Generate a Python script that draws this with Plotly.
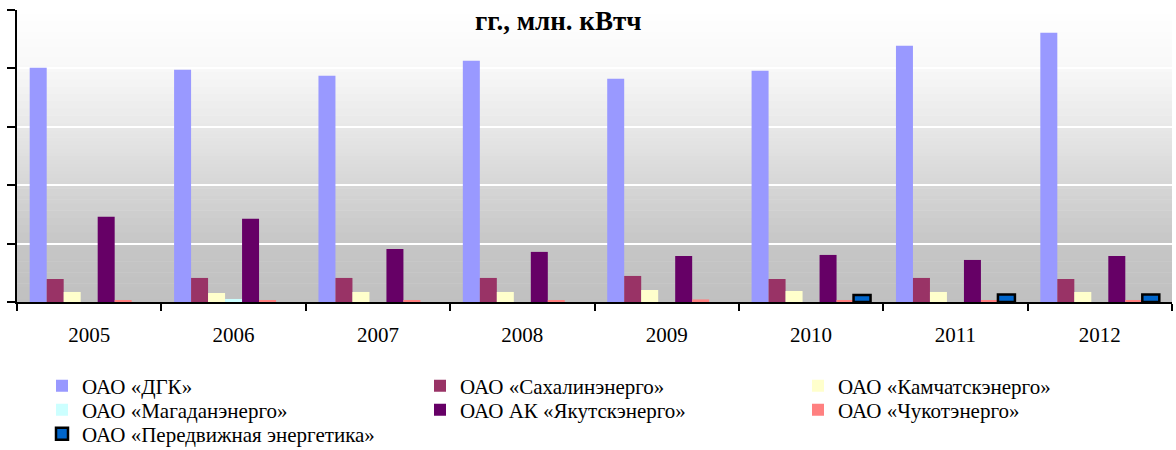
import plotly.graph_objects as go

years = ["2005", "2006", "2007", "2008", "2009", "2010", "2011", "2012"]

dgk = [20060, 19890, 19370, 20660, 19110, 19800, 21940, 23060]
sakhalin = [1970, 2060, 2060, 2060, 2230, 1970, 2060, 1970]
kamchatka = [860, 770, 860, 860, 1030, 940, 860, 860]
magadan = [None, 260, None, None, None, None, None, None]
yakutsk = [7290, 7120, 4540, 4290, 3940, 4030, 3600, 3940]
chukotka = [90, 90, 90, 90, 220, 90, 90, 90]
peredv = [None, None, None, None, None, 600, 650, 650]

series = [
    ("ОАО «ДГК»", dgk, "#9999ff", "legend"),
    ("ОАО «Сахалинэнерго»", sakhalin, "#993366", "legend"),
    ("ОАО «Камчатскэнерго»", kamchatka, "#ffffcc", "legend"),
    ("ОАО «Магаданэнерго»", magadan, "#ccffff", "legend2"),
    ("ОАО АК «Якутскэнерго»", yakutsk, "#660066", "legend2"),
    ("ОАО «Чукотэнерго»", chukotka, "#ff8080", "legend2"),
    ("ОАО «Передвижная энергетика»", peredv, "#0066cc", "legend3"),
]

FONT = "Liberation Serif, Times New Roman, serif"

fig = go.Figure()
for name, vals, col, leg in series:
    line = dict(width=0)
    if name == "ОАО «Передвижная энергетика»":
        line = dict(width=2.5, color="black")
    fig.add_trace(go.Bar(x=years, y=vals, name=name, legend=leg,
                         marker=dict(color=col, line=line)))

# gradient background bands (top white -> bottom gray)
stops = [(1.0, 255), (0.8, 248), (0.6, 232), (0.4, 214), (0.2, 198), (0.0, 192)]
def shade(f):
    for (f1, c1), (f0, c0) in zip(stops[:-1], stops[1:]):
        if f0 <= f <= f1:
            t = (f - f0) / (f1 - f0)
            return int(round(c0 + (c1 - c0) * t))
    return 192
n = 80
shapes = []
for i in range(n):
    y0 = i / n
    y1 = (i + 1) / n
    c = shade((y0 + y1) / 2)
    shapes.append(dict(type="rect", xref="paper", yref="paper", x0=0, x1=1,
                       y0=y0, y1=y1 + 0.002, fillcolor=f"rgb({c},{c},{c})",
                       line=dict(width=0), layer="below"))

PLOT_TOP, PLOT_BOTTOM = 10, 302
def row_y(center_px):
    return (PLOT_BOTTOM - center_px) / (PLOT_BOTTOM - PLOT_TOP)

def legend_row(center_px):
    return dict(orientation="h", x=(42 - 17) / 1155, xanchor="left",
                y=row_y(center_px), yanchor="middle",
                entrywidth=333, entrywidthmode="pixels",
                font=dict(family=FONT, size=21, color="black"),
                traceorder="normal", bgcolor="rgba(0,0,0,0)")

fig.update_layout(
    width=1176, height=450,
    margin=dict(l=17, r=4, t=10, b=148, autoexpand=False),
    paper_bgcolor="white",
    plot_bgcolor="rgba(0,0,0,0)",
    barmode="group",
    bargap=0.176,
    bargroupgap=0,
    shapes=shapes,
    font=dict(family=FONT, size=21, color="black"),
    showlegend=True,
    legend=legend_row(386),
    legend2=legend_row(410),
    legend3=legend_row(434),
    annotations=[dict(text="<b>гг., млн. кВтч</b>", xref="paper", yref="paper",
                      x=0.4688, y=0.962, xanchor="center", yanchor="middle",
                      showarrow=False, font=dict(family=FONT, size=27, color="black"))],
)
fig.update_xaxes(showline=True, linecolor="black", linewidth=2, ticks="outside",
                 tickson="boundaries", ticklen=7, tickwidth=2, tickcolor="black",
                 showgrid=False, ticklabelstandoff=13,
                 tickfont=dict(family=FONT, size=21, color="black"))
fig.update_yaxes(range=[0, 25000], dtick=5000, showline=True, linecolor="black",
                 linewidth=2, ticks="outside", ticklen=8, tickwidth=2, tickcolor="black",
                 showticklabels=False, showgrid=True, gridcolor="white", gridwidth=2,
                 zeroline=False)

fig.write_html("out.html", config={"displayModeBar": False},
               post_script="document.body.style.margin='0';document.body.style.overflow='hidden';")
